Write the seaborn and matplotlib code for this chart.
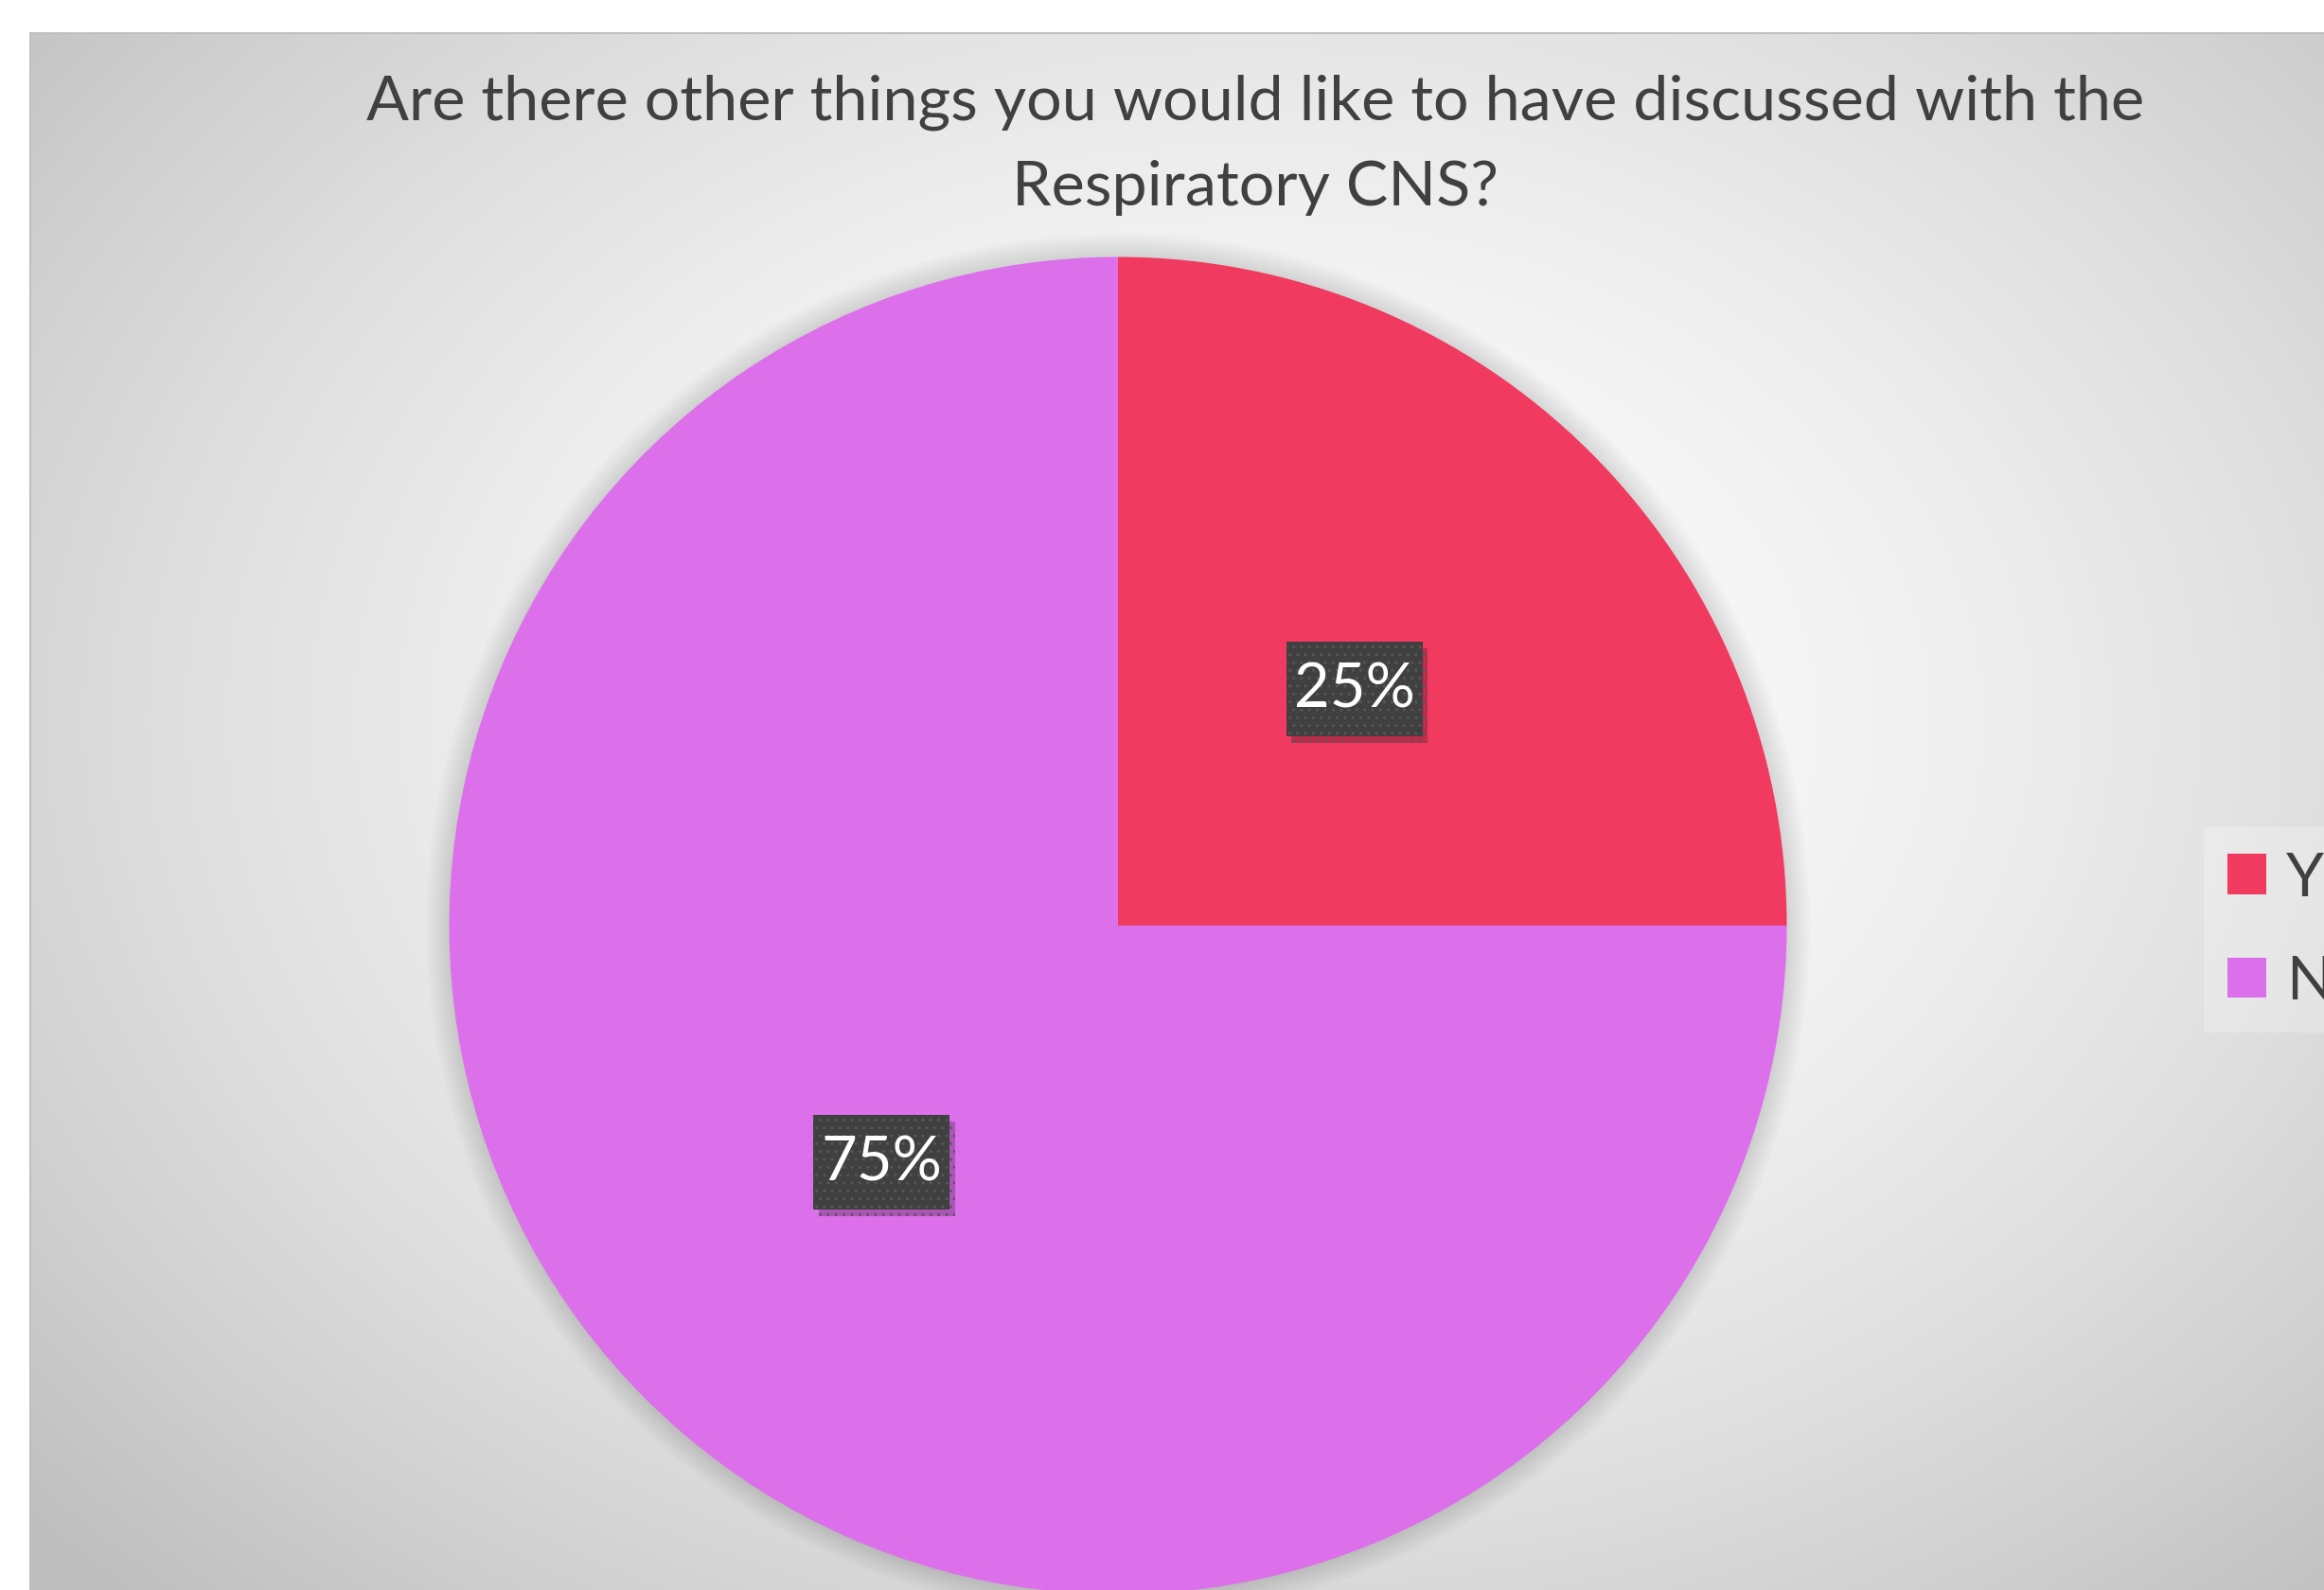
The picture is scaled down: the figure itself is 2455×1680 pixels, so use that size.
import numpy as np
import matplotlib
matplotlib.use("Agg")
import matplotlib.pyplot as plt
import seaborn as sns
from matplotlib.patches import Rectangle, Circle, Patch
from matplotlib.transforms import IdentityTransform
import matplotlib.patheffects as pe

# ---- data ----
categories = ["Yes", "No"]
values = [25, 75]
colors = ["#F03A5F", "#DC6FEA"]
title_lines = ["Are there other things you would like to have discussed with the",
               "Respiratory CNS?"]

sns.set_theme(style="white")
plt.rcParams['font.family'] = ['Lato', 'DejaVu Sans']
palette = sns.color_palette(colors)

W, H = 2455, 1681
DPI = 100
fig = plt.figure(figsize=(W / DPI, H / DPI), dpi=DPI)
fig.patch.set_facecolor('white')

# ---- background panel with radial gradient ----
bg = fig.add_axes([0, 0, 1, 1])
bg.axis('off')
px0, py0 = 32, 36
yy, xx = np.mgrid[py0:H, px0:W].astype(float) + 0.5
cx, cy, rx, ry = 1326, 760, 1350, 1000
d = np.sqrt(((xx - cx) / rx) ** 2 + ((yy - cy) / ry) ** 2)
v = np.clip(255 - 42.9 * d ** 1.65, 190, 255) / 255
img = np.dstack([v, v, v])
bg.imshow(img, extent=(px0, W, H, py0), interpolation='bilinear', aspect='auto')
bg.plot([px0, W], [py0, py0], color='#c0c0c0', lw=1.5)
bg.plot([px0, px0], [py0, H], color='#c0c0c0', lw=1.5)
bg.set_xlim(0, W)
bg.set_ylim(H, 0)

# ---- pie ----
cxp, cyp, R = 1181, 979, 706.5
ax = fig.add_axes([(cxp - R) / W, (H - cyp - R) / H, 2 * R / W, 2 * R / H])
for k in range(10):
    ax.add_patch(Circle((0, 0), 1 + 0.0035 * (k + 1), color='black', alpha=0.011,
                        lw=0, zorder=0, clip_on=False))
wedges, texts, autotexts = ax.pie(values, colors=palette, startangle=90, counterclock=False,
                                  autopct='%d%%', pctdistance=0.5, radius=1,
                                  wedgeprops=dict(linewidth=0),
                                  textprops=dict(color='white', fontsize=44))
for w_ in wedges:
    w_.set_clip_on(False)
ax.set_xlim(-1, 1)
ax.set_ylim(-1, 1)
ax.axis('off')

# ---- title ----
t1 = fig.text(1326 / W, 1 - 126.7 / H, title_lines[0], ha='center', va='baseline',
              color='#404040', fontsize=44)
t2 = fig.text(1326 / W, 1 - 216.7 / H, title_lines[1], ha='center', va='baseline',
              color='#404040', fontsize=44)

fig.canvas.draw()
renderer = fig.canvas.get_renderer()
w1 = t1.get_window_extent(renderer).width
fs_title = 44 * 1879 / w1
t1.set_fontsize(fs_title)
t2.set_fontsize(fs_title)

w25 = autotexts[0].get_window_extent(renderer).width
fs_lab = 44 * 128 / w25
for t in autotexts:
    t.set_fontsize(fs_lab)
    t.set_zorder(6)
    x, y = ax.transData.transform(t.get_position())
    r = Rectangle((x - 72, y - 50), 144, 100, transform=IdentityTransform(),
                  facecolor='#404040', edgecolor='#575757', hatch='..', lw=0,
                  zorder=5, clip_on=False)
    r.set_path_effects([pe.SimplePatchShadow(offset=(4, -5), shadow_rgbFace='black', alpha=0.22),
                        pe.Normal()])
    ax.add_artist(r)

# ---- legend ----
lfs = 46
fpx = lfs * DPI / 72
handles = [Patch(facecolor=c, edgecolor='none') for c in palette]
leg = fig.legend(handles, categories, loc='upper left',
                 bbox_to_anchor=(2328 / W, 1 - 875 / H), bbox_transform=fig.transFigure,
                 borderaxespad=0, frameon=True, fancybox=False, fontsize=lfs,
                 handlelength=41 / fpx, handleheight=41 / fpx, handletextpad=21 / fpx,
                 labelspacing=0.8, borderpad=25 / fpx, facecolor='white', framealpha=0.25,
                 edgecolor='none')
for txt in leg.get_texts():
    txt.set_color('#404040')

fig.savefig('out.png', dpi=DPI)
